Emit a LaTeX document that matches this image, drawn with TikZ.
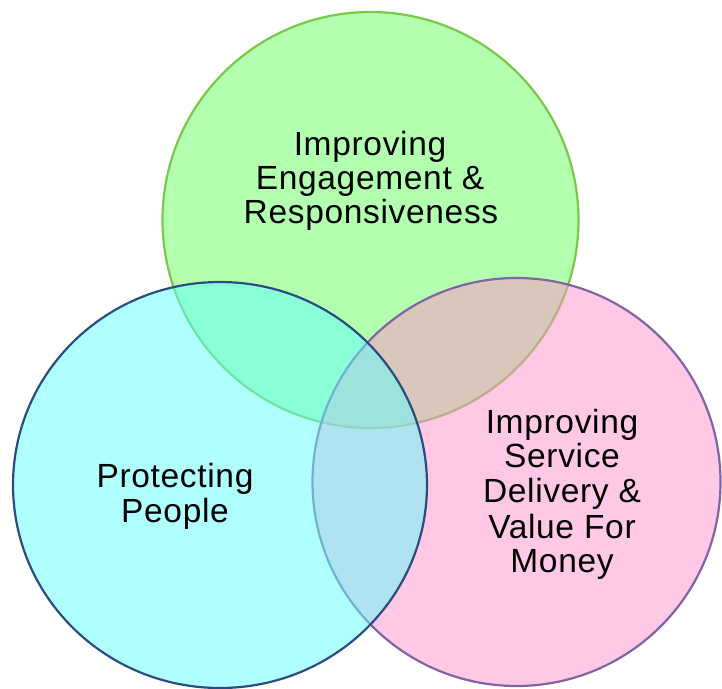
\documentclass[tikz,border=0pt]{standalone}
\usepackage{fontspec}
\setmainfont{Liberation Sans}[LetterSpace=2]
\begin{document}
\begin{tikzpicture}[x=1pt,y=-1pt,
  ring/.style={line width=2.2pt},
  label/.style={anchor=base,inner sep=0pt,font=\fontsize{33.5}{34}\selectfont}]
\definecolor{greenfill}{RGB}{179,255,176}
\definecolor{greenline}{RGB}{122,200,74}
\definecolor{pinkfill}{RGB}{255,145,201}
\definecolor{pinkline}{RGB}{128,100,166}
\definecolor{bluefill}{RGB}{97,255,255}
\definecolor{blueline}{RGB}{43,76,130}
\useasboundingbox (0,0) rectangle (722,688);
% three overlapping circles, bottom to top
\draw[ring,draw=greenline,fill=greenfill] (370.5,220) circle [radius=208];
\draw[ring,draw=pinkline,fill=pinkfill,fill opacity=0.5] (516.5,482) ellipse [x radius=204,y radius=204];
\draw[ring,draw=blueline,fill=bluefill,fill opacity=0.5] (220,485) ellipse [x radius=207,y radius=203];
% labels
\node[label] (g1) at (370,155) {Improving};
\node[label] (g2) at (370,189) {Engagement \&};
\node[label] (g3) at (371,223) {Responsiveness};
\node[label] (b1) at (175,487) {Protecting};
\node[label] (b2) at (175,522) {People};
\node[label] (p1) at (562,433) {Improving};
\node[label] (p2) at (562,467) {Service};
\node[label] (p3) at (562,502) {Delivery \&};
\node[label] (p4) at (562,538) {Value For};
\node[label] (p5) at (562,572) {Money};
\end{tikzpicture}
\end{document}
